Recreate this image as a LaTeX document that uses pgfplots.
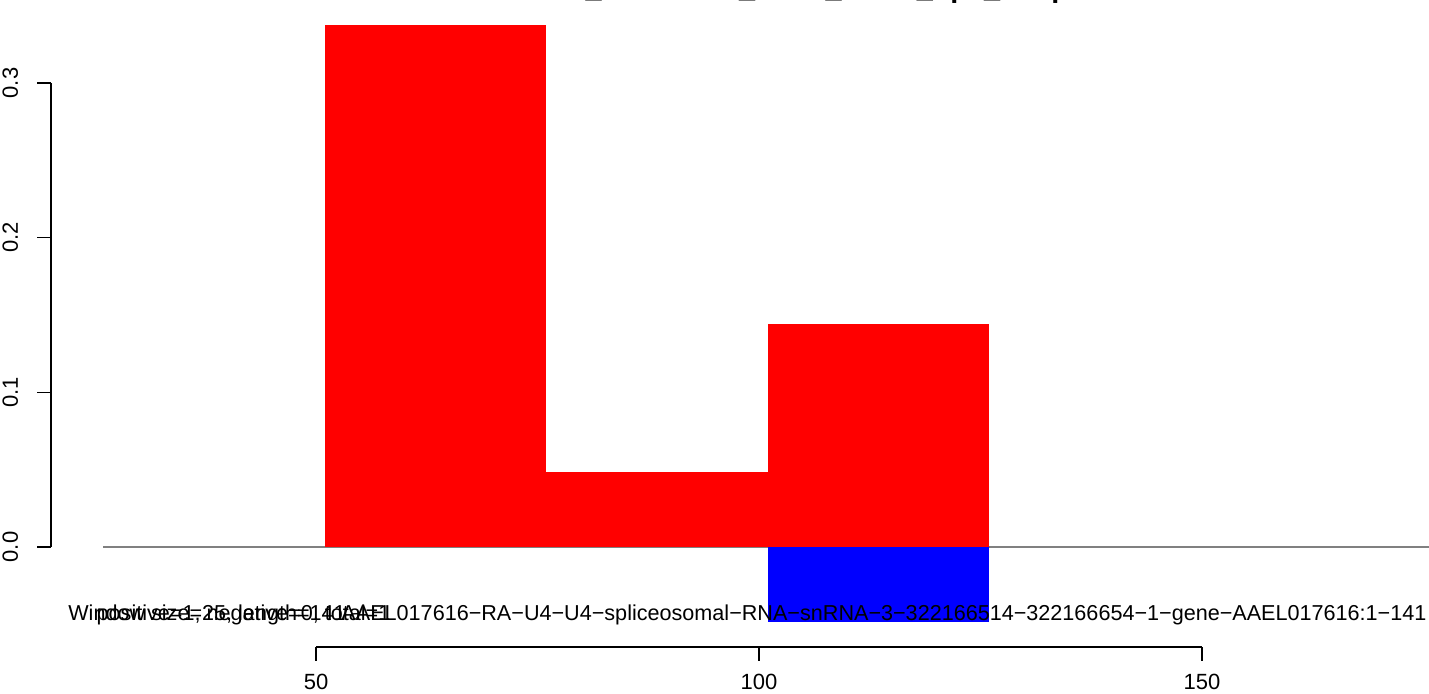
\documentclass[border=0pt]{standalone}
\usepackage{pgfplots}
\pgfplotsset{compat=1.18}
\usepackage{fontspec}
\setmainfont{Liberation Sans}
\begin{document}
\begin{tikzpicture}
\begin{axis}[
  scale only axis, width=714.5pt, height=347pt,
  xmin=14.33, xmax=175.62, ymin=-0.09504, ymax=0.35366,
  hide axis, clip=false,
]
% baseline
\addplot[color={rgb,255:red,128;green,128;blue,128}, line width=0.75pt] coordinates {(26,0) (175.62,0)};
% bars
\addplot[fill=red, draw=none] coordinates {(51,0) (51,0.3375) (76,0.3375) (76,0)} -- cycle;
\addplot[fill=red, draw=none] coordinates {(76,0) (76,0.0485) (101,0.0485) (101,0)} -- cycle;
\addplot[fill=red, draw=none] coordinates {(101,0) (101,0.1442) (126,0.1442) (126,0)} -- cycle;
\addplot[fill=blue, draw=none] coordinates {(101,0) (101,-0.0485) (126,-0.0485) (126,0)} -- cycle;
% y axis
\draw[line width=0.75pt] (axis cs:20.09,0) -- (axis cs:20.09,0.3);
\draw[line width=0.75pt] (axis cs:18.51,0) -- (axis cs:20.09,0);
\draw[line width=0.75pt] (axis cs:18.51,0.1) -- (axis cs:20.09,0.1);
\draw[line width=0.75pt] (axis cs:18.51,0.2) -- (axis cs:20.09,0.2);
\draw[line width=0.75pt] (axis cs:18.51,0.3) -- (axis cs:20.09,0.3);
\node[rotate=90, anchor=base, inner sep=0pt, font=\fontsize{11}{13}\selectfont] at (axis cs:16.36,0) {0.0};
\node[rotate=90, anchor=base, inner sep=0pt, font=\fontsize{11}{13}\selectfont] at (axis cs:16.36,0.1) {0.1};
\node[rotate=90, anchor=base, inner sep=0pt, font=\fontsize{11}{13}\selectfont] at (axis cs:16.36,0.2) {0.2};
\node[rotate=90, anchor=base, inner sep=0pt, font=\fontsize{11}{13}\selectfont] at (axis cs:16.36,0.3) {0.3};
% x axis
\draw[line width=0.75pt] (axis cs:50,-0.06466) -- (axis cs:150,-0.06466);
\draw[line width=0.75pt] (axis cs:50,-0.06466) -- (axis cs:50,-0.07371);
\draw[line width=0.75pt] (axis cs:100,-0.06466) -- (axis cs:100,-0.07371);
\draw[line width=0.75pt] (axis cs:150,-0.06466) -- (axis cs:150,-0.07371);
\node[anchor=north, inner sep=0pt, font=\fontsize{11}{13}\selectfont] at (axis cs:50,-0.08211) {50};
\node[anchor=north, inner sep=0pt, font=\fontsize{11}{13}\selectfont] at (axis cs:100,-0.08211) {100};
\node[anchor=north, inner sep=0pt, font=\fontsize{11}{13}\selectfont] at (axis cs:150,-0.08211) {150};
% overlapping annotation texts
\node[anchor=base west, inner sep=0pt, font=\fontsize{10.8}{12}\selectfont] at (axis cs:22.0,-0.04750) {Window size=25, length=141};
\node[anchor=base west, inner sep=0pt, font=\fontsize{10.8}{12}\selectfont] at (axis cs:25.2,-0.04750) {positive=1, negative=0, total=1};
\node[anchor=base east, inner sep=0pt, font=\fontsize{10.8}{12}\selectfont] at (axis cs:175.39,-0.04750) {AAEL017616−RA−U4−U4−spliceosomal−RNA−snRNA−3−322166514−322166654−1−gene−AAEL017616:1−141};
% title (mostly cut off at the top)
\node[anchor=base, inner sep=0pt, font=\bfseries\fontsize{14.4}{16}\selectfont] at (axis cs:97.85,0.35495) {AAEL017616\_window25\_sizes\_141nt\_ops\_coup};
\end{axis}
\pgfresetboundingbox
\path[use as bounding box] (current axis.south west) rectangle (current axis.north east);
\end{tikzpicture}
\end{document}
